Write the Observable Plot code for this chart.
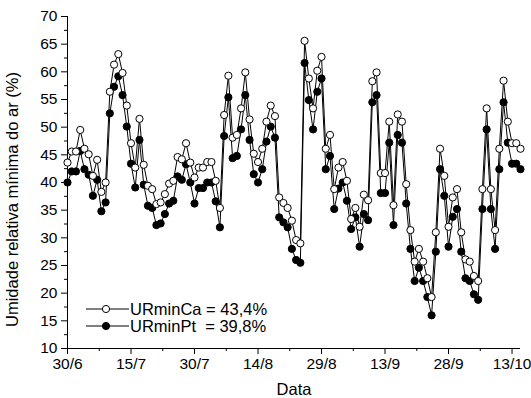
<!DOCTYPE html>
<html><head><meta charset="utf-8">
<script src="https://cdn.jsdelivr.net/npm/d3@7"></script>
<script src="https://cdn.jsdelivr.net/npm/@observablehq/plot@0.6"></script>
<style>
body{margin:0;background:#fff;}
#wrap{position:relative;width:531px;height:398px;font-family:"Liberation Sans",Arial,sans-serif;color:#000;}
.leg{position:absolute;display:flex;align-items:center;white-space:pre;font-size:16.5px;line-height:18px;}
</style></head><body><div id="wrap"></div>
<script>
// Daily series starting 30/6 (one value per day)
const startDate = "2008-06-30";
const urminCa = [43.6,45.6,45.6,49.5,46.1,45.1,41.2,44.1,38.3,40.0,
  56.4,61.3,63.2,59.8,53.9,47.1,42.7,51.5,43.2,39.4,
  38.8,36.1,36.4,37.9,39.8,40.3,44.6,44.2,47.1,43.6,
  40.9,42.7,42.7,43.7,43.7,40.3,35.4,52.2,59.3,48.1,
  48.6,53.4,59.9,51.4,45.2,43.7,46.1,51.0,53.9,52.0,
  37.3,36.3,35.4,33.1,29.6,29.0,65.6,58.8,53.4,60.2,
  62.7,46.1,48.6,38.8,42.7,43.7,40.3,33.4,35.4,32.0,
  37.8,36.8,58.3,59.9,41.7,41.7,51.0,35.9,52.3,51.0,
  39.7,31.4,25.7,28.0,25.7,22.7,19.3,31.0,46.1,41.2,
  32.0,37.3,38.8,31.0,26.1,25.7,23.1,22.2,38.8,53.4,
  38.8,31.4,46.1,58.4,51.0,47.1,47.1,46.1];
const urminPt = [40.0,42.0,42.0,45.7,42.4,41.4,37.6,40.5,34.8,36.4,
  52.5,57.3,59.2,55.8,50.1,43.4,39.1,47.7,39.6,35.8,
  35.4,32.3,32.6,34.3,36.2,36.7,41.1,40.5,43.3,40.0,
  36.2,39.0,39.0,40.0,40.0,36.6,31.9,48.4,55.4,44.4,
  44.8,49.6,55.8,47.7,41.5,40.0,42.4,47.4,50.1,48.1,
  33.7,32.8,31.9,28.0,26.0,25.5,61.6,54.9,49.6,56.4,
  58.8,42.4,44.8,35.2,38.9,40.0,36.7,31.6,33.7,28.4,
  34.3,33.2,54.5,55.8,38.1,38.1,47.2,32.3,48.6,47.2,
  36.2,28.0,22.2,24.6,22.2,19.3,16.0,27.5,42.4,37.6,
  28.4,33.8,35.2,27.5,22.7,22.2,19.8,18.8,35.2,49.6,
  35.2,28.0,42.4,54.5,47.2,43.4,43.4,42.4];
const xTickDates = ["2008-06-30","2008-07-15","2008-07-30","2008-08-14","2008-08-29","2008-09-13","2008-09-28","2008-10-13"];
const xTickLabels = ["30/6","15/7","30/7","14/8","29/8","13/9","28/9","13/10"];
const xEnd = "2008-10-15";
const yTicks = [10,15,20,25,30,35,40,45,50,55,60,65,70];
const yTitle = "Umidade relativa mínima do ar (%)";
const xTitle = "Data";
const legendLabels = ["URminCa = 43,4%", "URminPt  = 39,8%"];

const DAY = 86400000;
const t0 = new Date(startDate + "T00:00:00Z").getTime();
const toDate = s => new Date(s + "T00:00:00Z");
const ca = urminCa.map((v, i) => ({date: new Date(t0 + i * DAY), v}));
const pt = urminPt.map((v, i) => ({date: new Date(t0 + i * DAY), v}));
const majors = xTickDates.map(toDate);
const labelMap = new Map(majors.map((d, i) => [d.getTime(), xTickLabels[i]]));
const minorsX = majors.slice(0, -1).map(d => new Date(d.getTime() + 7.5 * DAY));
const minorsY = yTicks.slice(0, -1).map(v => v + 2.5);
const F = "Liberation Sans, Arial, sans-serif";

const chart = Plot.plot({
  width: 531, height: 398,
  marginLeft: 67, marginRight: 11, marginTop: 16, marginBottom: 50,
  style: {fontFamily: F, background: "white", color: "black"},
  x: {type: "utc", domain: [toDate(startDate), toDate(xEnd)]},
  y: {domain: [10, 70]},
  marks: [
    Plot.ruleY([10], {stroke: "black", strokeWidth: 1}),
    Plot.ruleX([toDate(startDate)], {stroke: "black", strokeWidth: 1}),
    Plot.axisX(majors, {tickSize: 6, tickPadding: 3, fontSize: 15.5, tickFormat: d => labelMap.get(d.getTime()), label: null}),
    Plot.axisX(minorsX, {tickSize: 3, text: null, label: null}),
    Plot.axisY(yTicks, {tickSize: 6, tickPadding: 4, fontSize: 15.5, label: null}),
    Plot.axisY(minorsY, {tickSize: 3, text: null, label: null}),
    Plot.text([xTitle], {frameAnchor: "bottom", dy: 46, fontSize: 16.5, fill: "black"}),
    Plot.text([yTitle], {frameAnchor: "left", textAnchor: "middle", dx: -55, dy: 17, rotate: -90, fontSize: 16.5, fill: "black"}),
    Plot.line(pt, {x: "date", y: "v", stroke: "black", strokeWidth: 1}),
    Plot.line(ca, {x: "date", y: "v", stroke: "black", strokeWidth: 1}),
    Plot.dot(pt, {x: "date", y: "v", r: 3.6, fill: "black", stroke: "black", strokeWidth: 1}),
    Plot.dot(ca, {x: "date", y: "v", r: 3.6, fill: "white", stroke: "black", strokeWidth: 1})
  ]
});
const wrap = document.getElementById("wrap");
wrap.appendChild(chart);

// Legend (inside plot, lower left)
const rows = [{label: legendLabels[0], fill: "white", cy: 309}, {label: legendLabels[1], fill: "black", cy: 326}];
rows.forEach(r => {
  const div = document.createElement("div");
  div.className = "leg";
  div.style.left = "86px";
  div.style.top = (r.cy - 9) + "px";
  div.innerHTML = `<svg width="43" height="18" style="display:block"><line x1="0" x2="43" y1="9" y2="9" stroke="black" stroke-width="1"/><circle cx="20" cy="9" r="3.6" fill="${r.fill}" stroke="black" stroke-width="1"/></svg><span style="margin-left:1px">${r.label}</span>`;
  wrap.appendChild(div);
});
</script>
</body></html>
